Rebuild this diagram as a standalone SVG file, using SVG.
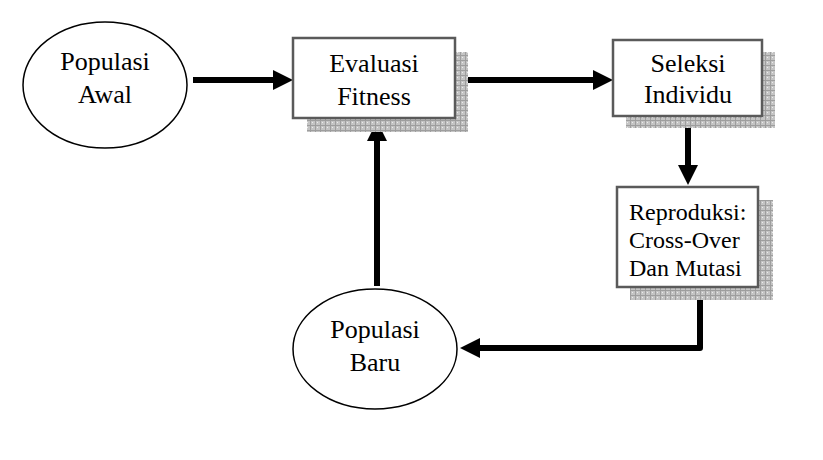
<svg xmlns="http://www.w3.org/2000/svg" width="823" height="460" viewBox="0 0 823 460">
<style>
  .lbl { font-family: "Liberation Serif", "Times New Roman", serif; font-size: 26px; fill: #000; }
  .box { fill: #fff; stroke: #5a5a5a; stroke-width: 2.5; }
  .ell { fill: #fff; stroke: #000; stroke-width: 1.5; }
  .shadow { fill: url(#grid); }
  .conn { fill: none; stroke: #000; stroke-width: 6; stroke-linejoin: round; }
</style>
<defs>
  <pattern id="grid" x="0" y="0" width="5" height="5" patternUnits="userSpaceOnUse">
    <rect width="5" height="5" fill="#c4c4c4"/>
    <path d="M0 0.5H5M0.5 0V5" stroke="#9e9e9e" stroke-width="1"/>
    <rect x="2" y="2" width="1" height="1" fill="#ececec"/>
  </pattern>
  <marker id="ah" markerUnits="userSpaceOnUse" markerWidth="21" markerHeight="22" viewBox="-1 -11 21 22" refX="0" refY="0" orient="auto">
    <path d="M-1,-10 L19,0 L-1,10 Z" fill="#000"/>
  </marker>
</defs>
<rect width="823" height="460" fill="#fff"/>

<g id="connectors">
  <path class="conn" d="M193,80 H274" marker-end="url(#ah)"/>
  <path class="conn" d="M455,80 H594" marker-end="url(#ah)"/>
  <path class="conn" d="M688,116 V166" marker-end="url(#ah)"/>
  <path class="conn" d="M700,287 V348 H479" marker-end="url(#ah)"/>
  <path class="conn" d="M377,286 V140" marker-end="url(#ah)"/>
</g>

<g id="populasi-awal">
  <ellipse class="ell" cx="105" cy="85" rx="82" ry="63"/>
  <text class="lbl" x="105" y="70" text-anchor="middle">Populasi</text>
  <text class="lbl" x="105" y="103" text-anchor="middle">Awal</text>
</g>

<g id="evaluasi-fitness">
  <rect class="shadow" x="307" y="52" width="161" height="80"/>
  <rect class="box" x="293" y="38" width="162" height="80"/>
  <text class="lbl" x="374" y="72" text-anchor="middle">Evaluasi</text>
  <text class="lbl" x="374" y="105" text-anchor="middle">Fitness</text>
</g>

<g id="seleksi-individu">
  <rect class="shadow" x="626" y="52" width="149" height="76"/>
  <rect class="box" x="613" y="40" width="149" height="76"/>
  <text class="lbl" x="688" y="72" text-anchor="middle">Seleksi</text>
  <text class="lbl" x="688" y="103" text-anchor="middle">Individu</text>
</g>

<g id="reproduksi">
  <rect class="shadow" x="630" y="200" width="143" height="100"/>
  <rect class="box" x="617" y="187" width="141" height="100"/>
  <text class="lbl" x="629" y="220" style="font-size:24px">Reproduksi:</text>
  <text class="lbl" x="629" y="248" style="font-size:24px">Cross-Over</text>
  <text class="lbl" x="629" y="276" style="font-size:24px">Dan Mutasi</text>
</g>

<g id="populasi-baru">
  <ellipse class="ell" cx="375" cy="349" rx="82" ry="60"/>
  <text class="lbl" x="375" y="338" text-anchor="middle">Populasi</text>
  <text class="lbl" x="375" y="371" text-anchor="middle">Baru</text>
</g>
</svg>
